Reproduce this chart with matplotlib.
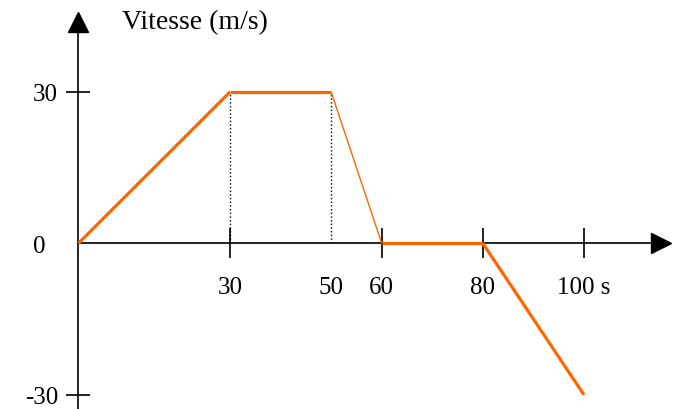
import matplotlib.pyplot as plt
import numpy as np

# vitesse en fonction du temps
temps = [0, 30, 50, 60, 80, 100]
vitesse = [0, 30, 30, 0, 0, -30]
epaisseur = [2.3, 2.3, 1.0, 2.3, 2.3]   # un trait par segment

xticks = [30, 50, 60, 80, 100]
xlabels = ["30", "50", "60", "80", "100 s"]
yticks = [30, 0, -30]
ylabels = ["30", "0", "-30"]

orange = "#ff6600"
plt.rcParams['font.family'] = ['Liberation Serif', 'DejaVu Serif']

fig = plt.figure(figsize=(6.75, 4.1), dpi=100)
ax = fig.add_axes([0, 0, 1, 1])
ax.set_xlim(-15.5, 118)
ax.set_ylim(-32.8, 48.4)

for i in range(len(temps) - 1):
    ax.plot(temps[i:i+2], vitesse[i:i+2], color=orange, lw=epaisseur[i],
            solid_capstyle="butt", zorder=3)

# pointillés verticaux
for t in [30, 50]:
    ax.plot([t, t], [0, 30], ":", color="black", lw=1.0, zorder=2)

# axes
for s in ["top", "right"]:
    ax.spines[s].set_visible(False)
ax.spines["left"].set_position(("data", 0))
ax.spines["bottom"].set_position(("data", 0))
ax.spines["left"].set_bounds(-32.8, 42.0)
ax.spines["bottom"].set_bounds(0, 113)
ax.plot(0, 43.8, "^", color="black", ms=15, clip_on=False)
ax.plot(115.3, 0, ">", color="black", ms=15, clip_on=False)

ax.set_xticks(xticks)
ax.set_xticklabels(xlabels, fontsize=18)
ax.set_yticks(yticks)
ax.set_yticklabels(ylabels, fontsize=18)
ax.tick_params(axis="x", direction="inout", length=21, width=1.2, pad=13)
ax.tick_params(axis="y", direction="inout", length=17, width=1.2, pad=6)
ax.xaxis.get_major_ticks()[1].tick1line.set_visible(False)
ax.yaxis.get_major_ticks()[1].tick1line.set_visible(False)
ax.yaxis.get_major_ticks()[1].set_pad(15)
for sp in ["left", "bottom"]:
    ax.spines[sp].set_linewidth(1.2)

ax.text(8.7, 44, "Vitesse (m/s)", fontsize=20, va="center", ha="left")

fig.savefig("out.png", dpi=100)
